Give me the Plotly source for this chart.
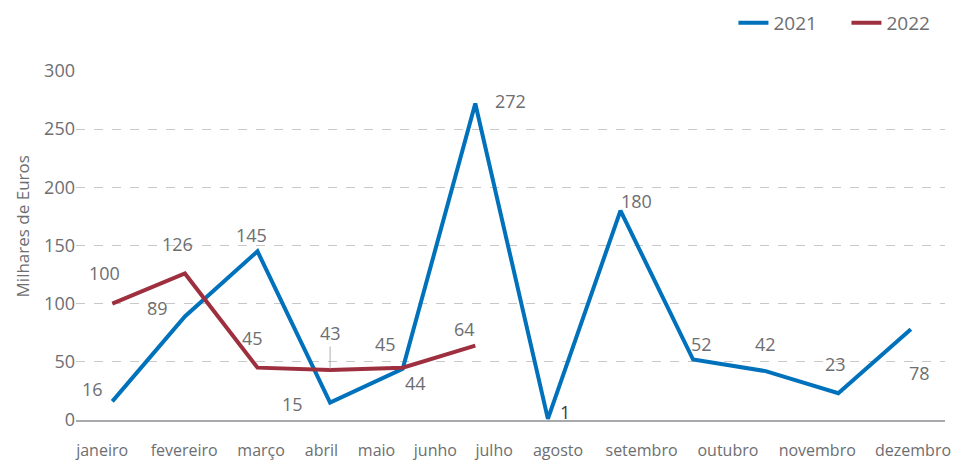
import plotly.graph_objects as go

meses = ['janeiro', 'fevereiro', 'março', 'abril', 'maio', 'junho',
         'julho', 'agosto', 'setembro', 'outubro', 'novembro', 'dezembro']

valores = {
    '2021': [16, 89, 145, 15, 44, 272, 1, 180, 52, 42, 23, 78],
    '2022': [100, 126, 45, 43, 45, 64],
}
cores = {'2021': '#0071bb', '2022': '#9d2f3e'}

# label offsets (px) from each point, as placed in the original chart
offsets = {
    '2021': [(-20, 12), (-27, 8), (-6, 16), (-38, -1), (13, -14), (35, 3),
             (17, 7), (16, 10), (8, 16), (0, 27), (-3, 29), (9, -44)],
    '2022': [(-8, 31), (-7, 29), (-5, 30), None, (-17, 24), (-11, 17)],
}

# month labels in the source are spread out, not under the points
label_pos = [-0.14, 0.99, 2.05, 2.88, 3.64, 4.45, 5.26, 6.14, 7.29, 8.48, 9.71, 11.03]

grey = '#6d6e71'
fnt = 'Open Sans'

fig = go.Figure()
for ano, ys in valores.items():
    xs = list(range(len(ys)))
    fig.add_trace(go.Scatter(x=xs, y=ys, name=ano, mode='lines',
                             line=dict(color=cores[ano], width=4)))
    for x, y, off in zip(xs, ys, offsets[ano]):
        if off is None:
            # 43 has a small leader line
            fig.add_annotation(x=x, y=y, text=str(y), showarrow=True, arrowhead=0,
                               arrowwidth=0.8, arrowcolor='#9a9a9a', ax=0, ay=-37,
                               standoff=1, font=dict(size=18, color=grey, family=fnt))
            continue
        col = '#3a3a3a' if (ano == '2021' and y == 1) else grey
        fig.add_annotation(x=x, y=y, text=str(y), showarrow=False,
                           xshift=off[0], yshift=off[1],
                           font=dict(size=18, color=col, family=fnt))

fig.add_annotation(text='Milhares de Euros', xref='paper', yref='paper', x=-0.062, y=0.555,
                   xanchor='center', yanchor='middle', textangle=-90, showarrow=False,
                   font=dict(size=17, color=grey, family=fnt))

fig.update_xaxes(range=[-0.5, 11.47], tickvals=label_pos, ticktext=meses, showgrid=False,
                 zeroline=False, showline=True, linecolor='#a7a9ac', linewidth=2,
                 tickfont=dict(size=16, color=grey, family=fnt), ticks='',
                 ticklabelstandoff=15, automargin=False)
fig.update_yaxes(range=[0, 300], dtick=50, showgrid=True, gridcolor='#c8c8c8', griddash='dash',
                 gridwidth=1, zeroline=False, tickfont=dict(size=18, color=grey, family=fnt),
                 automargin=False)

legend = go.layout.Legend(orientation='h', x=0.768, xanchor='left', xref='container',
                          y=0.95, yanchor='middle', yref='container', entrywidth=68,
                          font=dict(size=19, color=grey, family=fnt))
fig.update_layout(width=955, height=460,
                  margin=dict(l=76, r=10, t=71, b=40, autoexpand=False),
                  plot_bgcolor='white', paper_bgcolor='white', legend=legend,
                  showlegend=True)

# page has a default 8px body margin - drop it so the chart fills the window
fig.write_html('out.html', config={'displayModeBar': False},
               post_script="document.body.style.margin='0';")
